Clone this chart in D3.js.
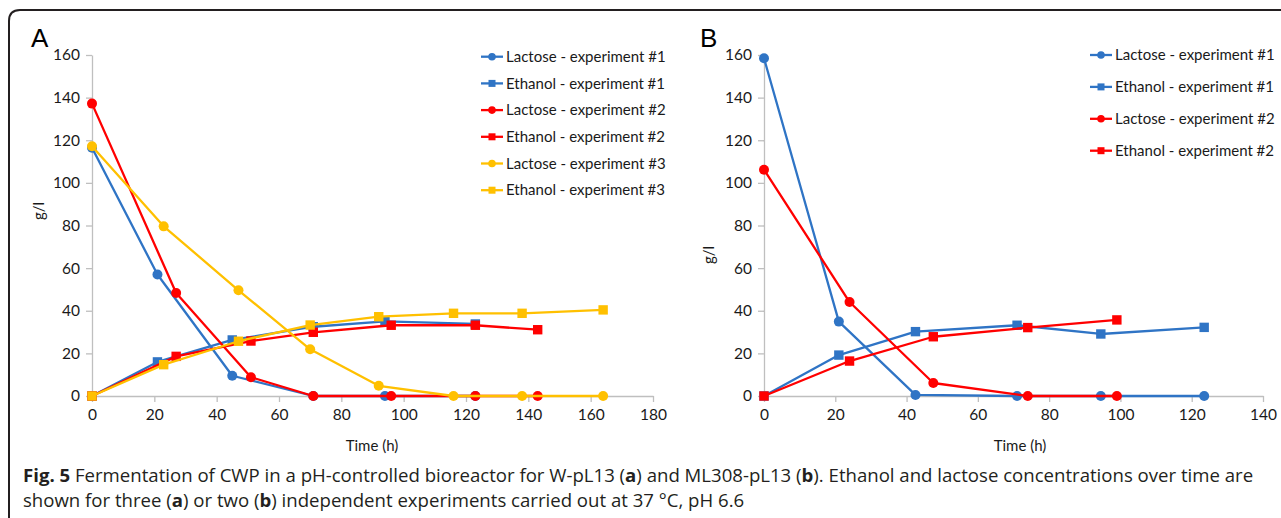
<!DOCTYPE html>
<html>
<head>
<meta charset="utf-8">
<script src="https://cdn.jsdelivr.net/npm/d3@7"></script>
<style>
  html, body { margin: 0; padding: 0; background: #fff; }
  svg { display: block; }
</style>
</head>
<body>
<div id="chart"></div>
<script>
// ---- data ----
// panel A
const timeL1A = [0, 21, 45, 71, 94, 123];
const lactose1A = [116.5, 57, 9.5, 0, 0, 0];
const ethanol1A = [0, 16, 26.3, 32.5, 35, 33.8];
const timeL2A = [0, 27, 51, 71, 96, 123, 143];
const lactose2A = [137.2, 48.3, 8.8, 0, 0, 0, 0];
const ethanol2A = [0, 18.6, 25.8, 29.9, 33.2, 33.2, 31.1];
const timeL3A = [0, 23, 47, 70, 92, 116, 138, 164];
const lactose3A = [117.2, 79.6, 49.6, 21.9, 4.8, 0, 0, 0];
const ethanol3A = [0, 14.7, 25.7, 33.3, 37.2, 38.8, 38.8, 40.4];
// panel B
const timeL1B = [0, 21, 42.5, 71, 94.5, 123.5];
const lactose1B = [158.5, 34.9, 0.5, 0, 0, 0];
const ethanol1B = [0, 19.2, 30.2, 33.2, 29.1, 32.2];
const timeL2B = [0, 24, 47.5, 74, 99];
const lactose2B = [106.2, 44.1, 6.1, 0, 0];
const ethanol2B = [0, 16.4, 27.8, 32.1, 35.7];

const xTicksA = d3.range(0, 181, 20);
const xTicksB = d3.range(0, 141, 20);
const yTicks = d3.range(0, 161, 20);

const colors = { 1: "#2f74c5", 2: "#ff0000", 3: "#ffc000" };

function series(name, exp, shape, t, v) {
    return { name, color: colors[exp], shape, points: t.map((d, i) => ({ t: d, v: v[i] })) };
}

const seriesA = [
    series("Lactose - experiment #1", 1, "circle", timeL1A, lactose1A),
    series("Ethanol - experiment #1", 1, "square", timeL1A, ethanol1A),
    series("Lactose - experiment #2", 2, "circle", timeL2A, lactose2A),
    series("Ethanol - experiment #2", 2, "square", timeL2A, ethanol2A),
    series("Lactose - experiment #3", 3, "circle", timeL3A, lactose3A),
    series("Ethanol - experiment #3", 3, "square", timeL3A, ethanol3A)
];
const seriesB = [
    series("Lactose - experiment #1", 1, "circle", timeL1B, lactose1B),
    series("Ethanol - experiment #1", 1, "square", timeL1B, ethanol1B),
    series("Lactose - experiment #2", 2, "circle", timeL2B, lactose2B),
    series("Ethanol - experiment #2", 2, "square", timeL2B, ethanol2B)
];

const W = 1281, H = 518;
const plotFont = "Lato, 'Open Sans', sans-serif";
const capFont = "'Open Sans', 'Noto Sans', sans-serif";

const svg = d3.select("#chart").append("svg")
    .attr("width", W)
    .attr("height", H);

// frame of the figure box
svg.append("path")
    .attr("d", "M9,520 V21 Q9,10 20,10 H1283")
    .attr("fill", "none")
    .attr("stroke", "#231f20")
    .attr("stroke-width", 2);

function drawPanel(cfg) {
    const x = d3.scaleLinear().domain(cfg.xDomain).range([cfg.x0, cfg.x1]);
    const y = d3.scaleLinear().domain([0, 160]).range([396, 55]);
    const g = svg.append("g");

    // y axis
    const ya = g.append("g")
        .attr("transform", `translate(${cfg.x0},0)`)
        .call(d3.axisLeft(y).tickValues(yTicks).tickSize(6).tickPadding(6).tickSizeOuter(0));
    // x axis
    const xa = g.append("g")
        .attr("transform", `translate(0,396)`)
        .call(d3.axisBottom(x).tickValues(cfg.xTicks).tickSize(6).tickPadding(7).tickSizeOuter(0));
    [ya, xa].forEach(a => {
        a.select(".domain").attr("stroke", "#bfbfbf").attr("stroke-width", 1.3);
        a.selectAll(".tick line").attr("stroke", "#bfbfbf").attr("stroke-width", 1.3);
        a.selectAll(".tick text")
            .attr("fill", "#1a1a1a")
            .style("font-family", plotFont)
            .style("font-size", "15.5px");
    });

    // axis titles
    g.append("text")
        .attr("transform", `translate(${cfg.yTitleX},${cfg.yTitleY}) rotate(-90)`)
        .attr("text-anchor", "middle")
        .attr("dy", "0.35em")
        .attr("fill", "#1a1a1a")
        .style("font-family", plotFont)
        .style("font-size", "15px")
        .text("g/l");
    g.append("text")
        .attr("x", cfg.xTitleX)
        .attr("y", 451)
        .attr("text-anchor", "middle")
        .attr("fill", "#1a1a1a")
        .style("font-family", plotFont)
        .style("font-size", "15px")
        .text("Time (h)");

    // panel letter
    g.append("text")
        .attr("x", cfg.letterX)
        .attr("y", 47)
        .attr("fill", "#000")
        .style("font-family", "'Liberation Sans', Arial, sans-serif")
        .style("font-size", "26px")
        .text(cfg.letter);

    const line = d3.line().x(d => x(d.t)).y(d => y(d.v));
    cfg.series.forEach(s => {
        const sg = g.append("g");
        sg.append("path")
            .attr("d", line(s.points))
            .attr("fill", "none")
            .attr("stroke", s.color)
            .attr("stroke-width", 2.3)
            .attr("stroke-linejoin", "round");
        if (s.shape === "circle") {
            sg.selectAll("circle")
                .data(s.points)
                .join("circle")
                .attr("cx", d => x(d.t))
                .attr("cy", d => y(d.v))
                .attr("r", 5)
                .attr("fill", s.color);
        } else {
            sg.selectAll("rect")
                .data(s.points)
                .join("rect")
                .attr("x", d => x(d.t) - 4.7)
                .attr("y", d => y(d.v) - 4.7)
                .attr("width", 9.4)
                .attr("height", 9.4)
                .attr("fill", s.color);
        }
    });

    // legend
    const legend = g.append("g")
        .attr("transform", `translate(${cfg.legendX},${cfg.legendY})`);
    cfg.series.forEach((s, i) => {
        const row = legend.append("g")
            .attr("transform", `translate(0,${i * cfg.legendStep})`);
        row.append("line")
            .attr("x1", 0).attr("x2", 22)
            .attr("stroke", s.color)
            .attr("stroke-width", 2.3);
        if (s.shape === "circle") {
            row.append("circle").attr("cx", 11).attr("r", 3.8).attr("fill", s.color);
        } else {
            row.append("rect").attr("x", 7.5).attr("y", -3.5).attr("width", 7).attr("height", 7).attr("fill", s.color);
        }
        row.append("text")
            .attr("x", 25)
            .attr("dy", "0.35em")
            .attr("fill", "#1a1a1a")
            .style("font-family", plotFont)
            .style("font-size", "15px")
            .text(s.name);
    });
}

drawPanel({
    letter: "A", letterX: 31,
    xDomain: [0, 180], x0: 92, x1: 653, xTicks: xTicksA,
    yTitleX: 39, yTitleY: 211, xTitleX: 372,
    series: seriesA,
    legendX: 481, legendY: 56.7, legendStep: 26.7
});

drawPanel({
    letter: "B", letterX: 700,
    xDomain: [0, 140], x0: 764, x1: 1263, xTicks: xTicksB,
    yTitleX: 709, yTitleY: 255, xTitleX: 1020,
    series: seriesB,
    legendX: 1090, legendY: 55, legendStep: 31.9
});

// caption
const cap = svg.append("g")
    .style("font-family", capFont)
    .style("font-size", "18.6px")
    .attr("fill", "#231f20");

const line1 = cap.append("text").attr("x", 23).attr("y", 482);
line1.append("tspan").style("font-weight", "bold").text("Fig. 5");
line1.append("tspan").text(" Fermentation of CWP in a pH-controlled bioreactor for W-pL13 (");
line1.append("tspan").style("font-weight", "bold").text("a");
line1.append("tspan").text(") and ML308-pL13 (");
line1.append("tspan").style("font-weight", "bold").text("b");
line1.append("tspan").text("). Ethanol and lactose concentrations over time are");

const line2 = cap.append("text").attr("x", 23).attr("y", 507);
line2.append("tspan").text("shown for three (");
line2.append("tspan").style("font-weight", "bold").text("a");
line2.append("tspan").text(") or two (");
line2.append("tspan").style("font-weight", "bold").text("b");
line2.append("tspan").text(") independent experiments carried out at 37 °C, pH 6.6");
</script>
</body>
</html>
